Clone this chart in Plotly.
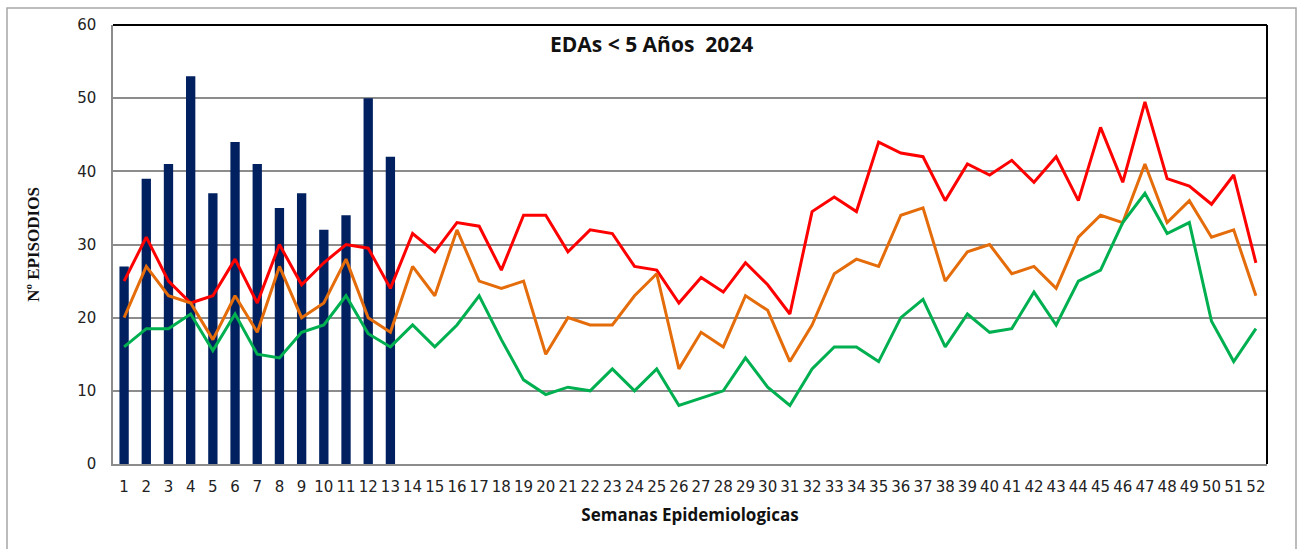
import plotly.graph_objects as go

weeks = [str(i) for i in range(1, 53)]
bars_2024 = [27, 39, 41, 53, 37, 44, 41, 35, 37, 32, 34, 50, 42]
red_line = [25, 31, 25, 22, 23, 28, 22, 30, 24.5, 27.5, 30, 29.5, 24, 31.5, 29, 33, 32.5, 26.5, 34, 34,
            29, 32, 31.5, 27, 26.5, 22, 25.5, 23.5, 27.5, 24.5, 20.5, 34.5, 36.5, 34.5, 44, 42.5, 42, 36, 41, 39.5,
            41.5, 38.5, 42, 36, 46, 38.5, 49.5, 39, 38, 35.5, 39.5, 27.5]
orange_line = [20, 27, 23, 22, 17, 23, 18, 27, 20, 22, 28, 20, 18, 27, 23, 32, 25, 24, 25, 15,
               20, 19, 19, 23, 26, 13, 18, 16, 23, 21, 14, 19, 26, 28, 27, 34, 35, 25, 29, 30,
               26, 27, 24, 31, 34, 33, 41, 33, 36, 31, 32, 23]
green_line = [16, 18.5, 18.5, 20.5, 15.5, 20.5, 15, 14.5, 18, 19, 23, 17.8, 16, 19, 16, 19, 23, 17, 11.5, 9.5,
              10.5, 10, 13, 10, 13, 8, 9, 10, 14.5, 10.5, 8, 13, 16, 16, 14, 20, 22.5, 16, 20.5, 18,
              18.5, 23.5, 19, 25, 26.5, 33, 37, 31.5, 33, 19.5, 14, 18.5]
y_ticks = [0, 10, 20, 30, 40, 50, 60]

fig = go.Figure()
fig.add_trace(go.Bar(x=weeks[:len(bars_2024)], y=bars_2024, marker=dict(color="#002060", line=dict(width=0)),
                     width=0.42, showlegend=False))
fig.add_trace(go.Scatter(x=weeks, y=red_line, mode="lines", line=dict(color="#FF0000", width=3), showlegend=False))
fig.add_trace(go.Scatter(x=weeks, y=orange_line, mode="lines", line=dict(color="#E46C0A", width=3), showlegend=False))
fig.add_trace(go.Scatter(x=weeks, y=green_line, mode="lines", line=dict(color="#00B050", width=3), showlegend=False))

fig.update_layout(
    width=1299, height=549,
    margin=dict(l=113, r=32, t=25, b=85),
    paper_bgcolor="white", plot_bgcolor="white",
    font=dict(family="DejaVu Sans", color="#222222"),
    xaxis=dict(type="category", categoryorder="array", categoryarray=weeks,
               range=[-0.5, 51.5], showgrid=False, showline=True, linecolor="#8c8c8c", linewidth=1.5,
               ticks="", tickfont=dict(size=15, family="DejaVu Sans", color="#222222"), tickangle=0,
               ticklabelstandoff=8,
               title=dict(text="<b>Semanas Epidemiologicas</b>", font=dict(size=17, family="Open Sans", color="#111111"),
                          standoff=14)),
    yaxis=dict(range=[0, 60], tickvals=y_ticks, showgrid=True, gridcolor="#8c8c8c", gridwidth=1.5,
               showline=True, linecolor="#8c8c8c", linewidth=1.5, ticks="",
               tickfont=dict(size=15, family="DejaVu Sans", color="#222222"),
               ticklabelstandoff=12,
               title=dict(text="<b>Nº EPISODIOS</b>", font=dict(size=17, family="Liberation Serif", color="#111111"),
                          standoff=33)),
    annotations=[dict(text="<b>EDAs &lt; 5 Años  2024</b>", xref="paper", yref="paper",
                      x=(651 - 113) / 1154, y=(464 - 44) / 439, xanchor="center", yanchor="middle",
                      showarrow=False, font=dict(size=21, family="Open Sans", color="#111111"))],
    shapes=[
        dict(type="line", xref="paper", yref="paper", x0=0, x1=1, y0=1, y1=1, line=dict(color="black", width=2)),
        dict(type="line", xref="paper", yref="paper", x0=1, x1=1, y0=0, y1=1, line=dict(color="black", width=2)),
        dict(type="rect", xref="paper", yref="paper", x0=(7 - 113) / 1154, x1=(1296 - 113) / 1154,
             y0=(464 - 560) / 439, y1=(464 - 8) / 439, line=dict(color="#a6a6a6", width=1.5), layer="below"),
    ],
)

fig.write_html("out.html", config={"displayModeBar": False},
               post_script="document.body.style.margin='0';document.body.style.overflow='hidden';")
